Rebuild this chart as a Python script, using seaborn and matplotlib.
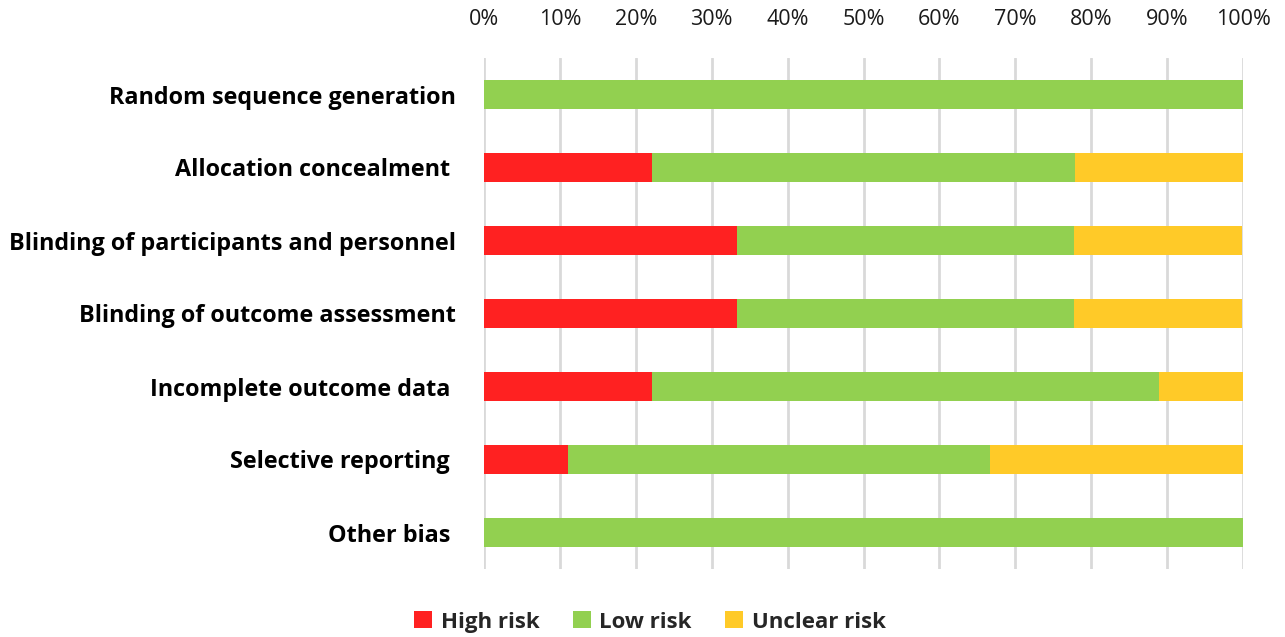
import numpy as np
import pandas as pd
import matplotlib
matplotlib.use("Agg")
import matplotlib.pyplot as plt
import seaborn as sns
from matplotlib.patches import Patch

# Risk of bias domains and their percentages
domains = [
    "Random sequence generation",
    "Allocation concealment ",
    "Blinding of participants and personnel",
    "Blinding of outcome assessment",
    "Incomplete outcome data ",
    "Selective reporting ",
    "Other bias ",
]
high_risk = [0, 22.2, 33.3, 33.3, 22.2, 11.1, 0]
low_risk = [100, 55.6, 44.4, 44.4, 66.7, 55.6, 100]
unclear_risk = [0, 22.2, 22.2, 22.2, 11.1, 33.3, 0]
tick_values = [0, 10, 20, 30, 40, 50, 60, 70, 80, 90, 100]
tick_labels = [f"{v}%" for v in tick_values]

colors = {"High risk": "#FF2121", "Low risk": "#92D050", "Unclear risk": "#FFCA28"}

sns.set_theme(style="white")
plt.rcParams["font.family"] = ["Open Sans", "DejaVu Sans"]

df = pd.DataFrame({
    "domain": domains,
    "high": high_risk,
    "low": low_risk,
    "unclear": unclear_risk,
})
df["c_low"] = df["high"] + df["low"]
df["c_unclear"] = df["c_low"] + df["unclear"]

fig = plt.figure(figsize=(12.85, 6.37), dpi=100)
ax = fig.add_axes([484 / 1285, 1 - 569 / 637, (1243 - 484) / 1285, 511 / 637])

# stacked bars drawn back to front with cumulative totals
for col, name in [("c_unclear", "Unclear risk"), ("c_low", "Low risk"), ("high", "High risk")]:
    sns.barplot(data=df, x=col, y="domain", orient="h", color=colors[name],
                width=0.39, saturation=1, linewidth=0, ax=ax, zorder=3)

ax.set_xlim(0, 100)
ax.set_ylim(6.5, -0.5)
ax.set_xticks(tick_values)
ax.set_xticklabels(tick_labels, fontsize=15.5, color="#1a1a1a")
ax.xaxis.tick_top()
ax.tick_params(axis="x", length=0, pad=20)
ax.tick_params(axis="y", length=0, pad=20)
for lab in ax.get_yticklabels():
    lab.set_fontsize(16.8)
    lab.set_fontweight("bold")
    lab.set_color("black")
ax.set_xlabel("")
ax.set_ylabel("")
ax.grid(axis="x", color="#D9D9D9", linewidth=2, zorder=0)
ax.set_axisbelow(True)
for s in ax.spines.values():
    s.set_visible(False)

handles = [Patch(facecolor=colors[n], edgecolor="none", label=n) for n in colors]
leg = fig.legend(handles=handles, loc="center", bbox_to_anchor=(650 / 1285, 1 - 622 / 637),
                 ncol=3, frameon=False, handlelength=0.8, handleheight=0.8,
                 handletextpad=0.4, columnspacing=1.5,
                 prop={"size": 16, "weight": "bold"})

fig.savefig("out.png", dpi=100)
